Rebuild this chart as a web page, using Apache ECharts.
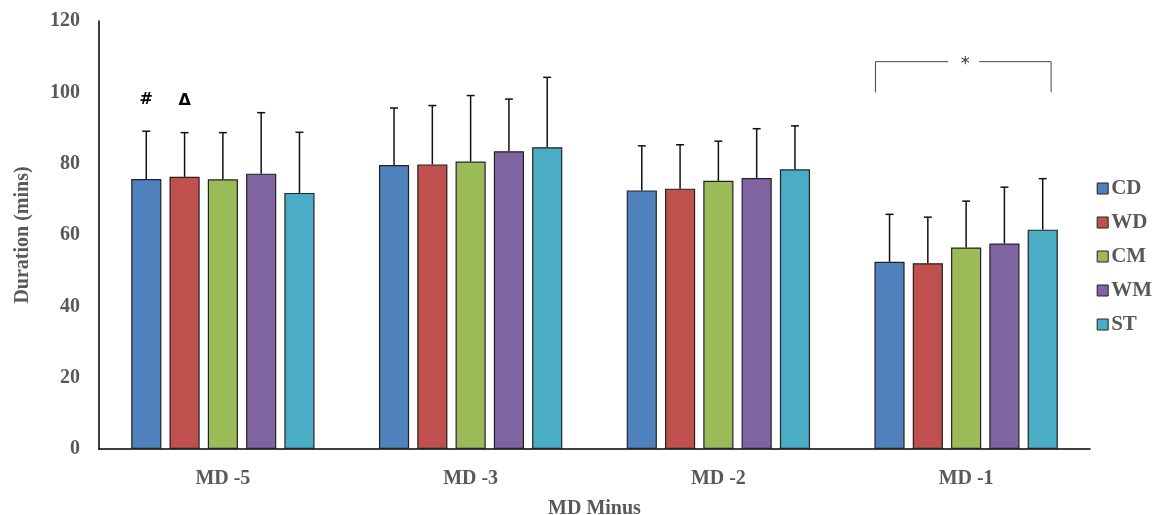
<!DOCTYPE html>
<html>
<head>
<meta charset="utf-8">
<script src="https://cdn.jsdelivr.net/npm/echarts@6/dist/echarts.min.js"></script>
<style>html,body{margin:0;padding:0;background:#fff}#c{width:1168px;height:515px}</style>
</head>
<body>
<div id="c"></div>
<script>
var categories = ['MD -5', 'MD -3', 'MD -2', 'MD -1'];
var seriesNames = ['CD', 'WD', 'CM', 'WM', 'ST'];
var colors = ['#4F81BD', '#C0504D', '#9BBB59', '#8064A2', '#4BACC6'];
var CD = [75.7, 79.6, 72.5, 52.5];
var WD = [76.3, 79.8, 73.0, 52.1];
var CM = [75.6, 80.6, 75.2, 56.5];
var WM = [77.2, 83.5, 76.0, 57.6];
var ST = [71.8, 84.6, 78.4, 61.5];
var CD_upper = [89.1, 95.6, 85.0, 65.8];
var WD_upper = [88.7, 96.3, 85.3, 65.0];
var CM_upper = [88.7, 99.1, 86.3, 69.5];
var WM_upper = [94.3, 98.1, 89.8, 73.4];
var ST_upper = [88.8, 104.2, 90.6, 75.8];
var yTicks = [0, 20, 40, 60, 80, 100, 120];
// significance annotations: [categoryIndex, seriesIndex, value, text]
var marks = [[0, 0, 98.0, '#'], [0, 1, 97.5, 'Δ']];
// bracket: [categoryIndex, legBottom, top, text]
var bracket = [[3, 100, 108.6, '*']];

var values = [CD, WD, CM, WM, ST];
var uppers = [CD_upper, WD_upper, CM_upper, WM_upper, ST_upper];
var CAT_GAP = 0.26, BAR_GAP = 0.27, N = 5;

function barLayout(api, si) {
  var bw = api.size([1, 0])[0];
  var remained = bw * (1 - CAT_GAP);
  var w = remained / (N + (N - 1) * BAR_GAP);
  var total = N * w + (N - 1) * w * BAR_GAP;
  var off = -total / 2 + si * w * (1 + BAR_GAP) + w / 2;
  return {w: w, off: off, bw: bw};
}

var font = '"Liberation Serif", "Times New Roman", serif';
var series = [];
seriesNames.forEach(function (n, i) {
  series.push({
    name: n, type: 'bar', data: values[i],
    barGap: (BAR_GAP * 100) + '%', barCategoryGap: (CAT_GAP * 100) + '%',
    itemStyle: {color: colors[i], borderColor: '#222', borderWidth: 1.2},
    emphasis: {disabled: true}
  });
});
seriesNames.forEach(function (n, i) {
  series.push({
    type: 'custom', name: n + ' err', silent: true, z: 3,
    data: categories.map(function (c, k) { return [k, values[i][k], uppers[i][k]]; }),
    renderItem: function (params, api) {
      var L = barLayout(api, i);
      var p0 = api.coord([api.value(0), api.value(1)]);
      var p1 = api.coord([api.value(0), api.value(2)]);
      var x = p0[0] + L.off;
      return {type: 'group', children: [
        {type: 'line', shape: {x1: x, y1: p0[1], x2: x, y2: p1[1]}, style: {stroke: '#111', lineWidth: 1.5}},
        {type: 'line', shape: {x1: x - 4, y1: p1[1], x2: x + 4, y2: p1[1]}, style: {stroke: '#111', lineWidth: 1.5}}
      ]};
    }
  });
});
series.push({
  type: 'custom', silent: true, z: 4,
  data: marks,
  renderItem: function (params, api) {
    var si = api.value(1);
    var L = barLayout(api, si);
    var p = api.coord([api.value(0), api.value(2)]);
    return {type: 'text', style: {x: p[0] + L.off, y: p[1], text: marks[params.dataIndex][3], align: 'center', verticalAlign: 'middle',
      font: 'bold 16px "DejaVu Sans", sans-serif', fill: '#000'}};
  }
});
series.push({
  type: 'custom', silent: true, z: 4,
  data: bracket,
  renderItem: function (params, api) {
    var p0 = api.coord([api.value(0), api.value(1)]);
    var p1 = api.coord([api.value(0), api.value(2)]);
    var bw = api.size([1, 0])[0];
    var xl = p0[0] - 0.366 * bw, xr = p0[0] + 0.343 * bw, xc = p0[0] - 0.004 * bw;
    var st = {stroke: '#444', lineWidth: 1, fill: 'none'};
    return {type: 'group', children: [
      {type: 'polyline', shape: {points: [[xl, p0[1]], [xl, p1[1]], [xc - 17, p1[1]]]}, style: st},
      {type: 'polyline', shape: {points: [[xc + 14, p1[1]], [xr, p1[1]], [xr, p0[1]]]}, style: st},
      {type: 'text', style: {x: xc, y: p1[1] + 3, text: bracket[params.dataIndex][3], align: 'center', verticalAlign: 'middle',
        font: '18px "DejaVu Sans", sans-serif', fill: '#333'}}
    ]};
  }
});

var chart = echarts.init(document.getElementById('c'));
chart.setOption({
  animation: false,
  grid: {left: 99, right: 78, top: 21, bottom: 66, containLabel: false, outerBoundsMode: 'none'},
  legend: {
    orient: 'vertical', right: 11, top: 173, itemGap: 13, itemWidth: 11, itemHeight: 11,
    data: seriesNames.map(function (n, i) { return {name: n, icon: 'rect', itemStyle: {color: colors[i], borderColor: '#222', borderWidth: 1}}; }),
    textStyle: {fontFamily: font, fontWeight: 'bold', fontSize: 21, lineHeight: 21, color: '#595959', padding: [0, 0, 0, -2]}
  },
  xAxis: {
    type: 'category', data: categories,
    axisLine: {lineStyle: {color: '#000', width: 1.5}},
    axisTick: {show: false},
    axisLabel: {fontFamily: font, fontWeight: 'bold', fontSize: 20, color: '#595959', margin: 20},
    name: 'MD Minus', nameLocation: 'middle', nameGap: 50,
    nameTextStyle: {fontFamily: font, fontWeight: 'bold', fontSize: 20, color: '#595959'}
  },
  yAxis: {
    type: 'value', min: 0, max: 120, interval: 20,
    axisLine: {show: true, lineStyle: {color: '#000', width: 1.5}},
    axisTick: {show: false},
    splitLine: {show: false},
    axisLabel: {fontFamily: font, fontWeight: 'bold', fontSize: 20, color: '#595959', margin: 19,
      formatter: function (v) { return yTicks.indexOf(v) >= 0 ? String(v) : ''; }},
    name: 'Duration (mins)', nameLocation: 'middle', nameGap: 66, nameRotate: 90,
    nameTextStyle: {fontFamily: font, fontWeight: 'bold', fontSize: 20, color: '#595959'}
  },
  series: series
});
</script>
</body>
</html>
